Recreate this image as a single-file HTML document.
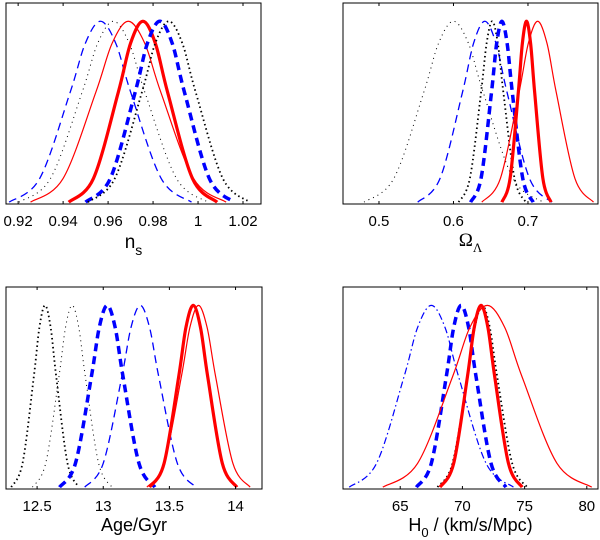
<!DOCTYPE html>
<html><head><meta charset="utf-8"><style>
html,body{margin:0;padding:0;background:#fff;}
svg{display:block;font-family:"Liberation Sans",sans-serif;}
</style></head><body>
<svg id="fig" width="600" height="540" viewBox="0 0 600 540" xmlns="http://www.w3.org/2000/svg"></svg>
<script>
// shared normalized likelihood profile for the sample points
const profileY = [0.01,0.14,0.61,0.88,1,0.88,0.61,0.14,0.01];

// Panel 1: n_s
const nsTicks = [0.92,0.94,0.96,0.98,1,1.02];
const nsTickLabels = ["0.92","0.94","0.96","0.98","1","1.02"];
const nsBlueThin = [.916,.9296,.9431,.9499,.9566,.9634,.9701,.9836,.9971];
const nsBlackThin = [.9204,.9344,.9484,.9554,.9624,.9694,.9764,.9904,1.0044];
const nsRedThin = [.9255,.94,.9545,.9618,.969,.9763,.9835,.998,1.0125];
const nsRedThick = [.9425,.9535,.9645,.97,.9755,.981,.9865,.9975,1.0085];
const nsBlueThick = [.95,.961,.972,.9775,.983,.9885,.994,1.005,1.016];
const nsBlackThick = [.951,.963,.975,.981,.987,.993,.999,1.011,1.023];

// Panel 2: Omega_Lambda
const olTicks = [0.5,0.6,0.7];
const olTickLabels = ["0.5","0.6","0.7"];
const olBlackThin = [.48,.52,.56,.58,.60,.62,.64,.68,.72];
const olBlueThin = [.552,.582,.612,.627,.642,.657,.672,.702,.732];
const olBlackThick = [.607,.622,.637,.6445,.652,.6595,.667,.682,.697];
const olBlueThick = [.623,.637,.651,.658,.665,.672,.679,.693,.707];
const olRedThick = [.665,.676,.687,.6925,.698,.7035,.709,.72,.731];
const olRedThin = [.638,.663,.688,.7005,.713,.7255,.738,.763,.788];

// Panel 3: Age
const ageTicks = [12.5,13,13.5,14];
const ageTickLabels = ["12.5","13","13.5","14"];
const ageBlackThick = [12.305,12.39,12.475,12.5175,12.56,12.6025,12.645,12.73,12.815];
const ageBlackThin = [12.465,12.565,12.665,12.715,12.765,12.815,12.865,12.965,13.065];
const ageBlueThick = [12.67,12.79,12.91,12.97,13.03,13.09,13.15,13.27,13.39];
const ageBlueThin = [12.86,13.0,13.14,13.21,13.28,13.35,13.42,13.56,13.70];
const ageRedThick = [13.35,13.46,13.57,13.625,13.68,13.735,13.79,13.90,14.01];
const ageRedThin = [13.33,13.46,13.59,13.655,13.72,13.785,13.85,13.98,14.11];

// Panel 4: H0
const h0Ticks = [65,70,75,80];
const h0TickLabels = ["65","70","75","80"];
const h0BlueDashDot = [60.9,63.1,65.3,66.4,67.5,68.6,69.7,71.9,74.1];
const h0BlueThick = [66.3,67.5,68.7,69.3,69.9,70.5,71.1,72.3,73.5];
const h0BlackThick = [68.0,69.2,70.4,71.0,71.6,72.2,72.8,74.0,75.2];
const h0RedThick = [68.2,69.3,70.4,70.95,71.5,72.05,72.6,73.7,74.8];
const h0RedThin = [63.6,66.4,69.2,70.6,72.0,73.4,74.8,77.6,80.4];

const NS="http://www.w3.org/2000/svg";
const svg=document.getElementById('fig');
const STY={
 redThin:{stroke:'#f00',w:1.2,dash:''},
 redThick:{stroke:'#f00',w:3.2,dash:''},
 blueThin:{stroke:'#00f',w:1.3,dash:'8,5'},
 blueThick:{stroke:'#00f',w:3.5,dash:'8,5'},
 blackThin:{stroke:'#000',w:1,dash:'1,4'},
 blackThick:{stroke:'#000',w:1.8,dash:'1.5,3'},
 blueDashDot:{stroke:'#00f',w:1.2,dash:'7,3,1.5,3'}
};
function mk(tag,attrs){const e=document.createElementNS(NS,tag);for(const k in attrs)e.setAttribute(k,attrs[k]);return e;}
function smooth(pts){
 let d='M'+pts[0][0].toFixed(2)+','+pts[0][1].toFixed(2);
 for(let i=0;i<pts.length-1;i++){
  const p0=pts[Math.max(0,i-1)],p1=pts[i],p2=pts[i+1],p3=pts[Math.min(pts.length-1,i+2)];
  const c1=[p1[0]+(p2[0]-p0[0])/6,p1[1]+(p2[1]-p0[1])/6];
  const c2=[p2[0]-(p3[0]-p1[0])/6,p2[1]-(p3[1]-p1[1])/6];
  d+='C'+c1[0].toFixed(2)+','+c1[1].toFixed(2)+' '+c2[0].toFixed(2)+','+c2[1].toFixed(2)+' '+p2[0].toFixed(2)+','+p2[1].toFixed(2);
 }
 return d;
}
function panel(name,box,xmin,xmax,ticks,labels,series,labelFn){
 const g=mk('g',{});
 
 
 svg.appendChild(g);
 const xs=v=>box.x0+(v-xmin)/(xmax-xmin)*(box.x1-box.x0);
 const ys=v=>box.y1-v/1.1*(box.y1-box.y0);
 const cid='clip-'+name;
 const cp=mk('clipPath',{id:cid});cp.appendChild(mk('rect',{x:box.x0,y:box.y0,width:box.x1-box.x0,height:box.y1-box.y0}));g.appendChild(cp);
 const cg=mk('g',{'clip-path':'url(#'+cid+')'});g.appendChild(cg);
 series.forEach(s=>{
  const st=STY[s.style];
  const pts=s.x.map((v,i)=>[xs(v),ys(profileY[i])]);
  const p=mk('path',{d:smooth(pts),fill:'none',stroke:st.stroke,'stroke-width':st.w,'stroke-linecap':'butt'});
  if(st.dash)p.setAttribute('stroke-dasharray',st.dash);
  
  
  cg.appendChild(p);
 });
 const fr=mk('rect',{x:box.x0,y:box.y0,width:box.x1-box.x0,height:box.y1-box.y0,fill:'none',stroke:'#000','stroke-width':1});
 
 
 g.appendChild(fr);
 ticks.forEach((t,i)=>{
  const x=xs(t);
  g.appendChild(mk('line',{x1:x,x2:x,y1:box.y1,y2:box.y1-3,stroke:'#000','stroke-width':1}));
  g.appendChild(mk('line',{x1:x,x2:x,y1:box.y0,y2:box.y0+3,stroke:'#000','stroke-width':1}));
  const tx=mk('text',{x:x,y:box.y1+22,'text-anchor':'middle','font-size':15,fill:'#000'});
  tx.textContent=labels[i];
  
  
  g.appendChild(tx);
 });
 labelFn(g,(box.x0+box.x1)/2,box.y1);
}
panel('ns',{x0:6,x1:261,y0:3,y1:204},0.9146,1.028,nsTicks,nsTickLabels,[
 {name:'blue-thin',style:'blueThin',x:nsBlueThin},{name:'black-thin',style:'blackThin',x:nsBlackThin},
 {name:'red-thin',style:'redThin',x:nsRedThin},{name:'red-thick',style:'redThick',x:nsRedThick},
 {name:'blue-thick',style:'blueThick',x:nsBlueThick},{name:'black-thick',style:'blackThick',x:nsBlackThick}],
 (g,cx,yb)=>{const t=mk('text',{x:cx,y:yb+44,'text-anchor':'middle','font-size':19});t.innerHTML='n<tspan dy="7" font-size="14">s</tspan>';g.appendChild(t);});
panel('omega-lambda',{x0:343,x1:598,y0:3,y1:204},0.4517,0.794,olTicks,olTickLabels,[
 {name:'black-thin',style:'blackThin',x:olBlackThin},{name:'blue-thin',style:'blueThin',x:olBlueThin},
 {name:'black-thick',style:'blackThick',x:olBlackThick},{name:'blue-thick',style:'blueThick',x:olBlueThick},
 {name:'red-thin',style:'redThin',x:olRedThin},{name:'red-thick',style:'redThick',x:olRedThick}],
 (g,cx,yb)=>{const t=mk('text',{x:cx,y:yb+42,'text-anchor':'middle','font-size':19,'font-family':'Liberation Serif, serif'});t.innerHTML='Ω<tspan dy="6" font-size="13">Λ</tspan>';g.appendChild(t);});
panel('age',{x0:6,x1:262,y0:287,y1:489},12.265,14.2,ageTicks,ageTickLabels,[
 {name:'black-thick',style:'blackThick',x:ageBlackThick},{name:'black-thin',style:'blackThin',x:ageBlackThin},
 {name:'blue-thick',style:'blueThick',x:ageBlueThick},{name:'blue-thin',style:'blueThin',x:ageBlueThin},
 {name:'red-thin',style:'redThin',x:ageRedThin},{name:'red-thick',style:'redThick',x:ageRedThick}],
 (g,cx,yb)=>{const t=mk('text',{x:cx,y:yb+42,'text-anchor':'middle','font-size':18});t.textContent='Age/Gyr';g.appendChild(t);});
panel('h0',{x0:343,x1:598,y0:287,y1:489},60.4,80.9,h0Ticks,h0TickLabels,[
 {name:'blue-dashdot',style:'blueDashDot',x:h0BlueDashDot},{name:'blue-thick',style:'blueThick',x:h0BlueThick},
 {name:'black-thick',style:'blackThick',x:h0BlackThick},{name:'red-thin',style:'redThin',x:h0RedThin},
 {name:'red-thick',style:'redThick',x:h0RedThick}],
 (g,cx,yb)=>{const t=mk('text',{x:cx,y:yb+42,'text-anchor':'middle','font-size':18});t.innerHTML='H<tspan dy="6" font-size="13">0</tspan><tspan dy="-6"> / (km/s/Mpc)</tspan>';g.appendChild(t);});
</script>
</body></html>
